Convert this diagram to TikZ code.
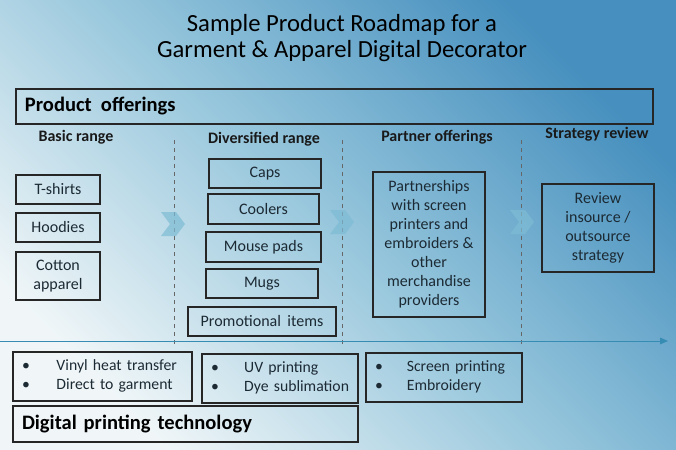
\documentclass[tikz,border=0pt]{standalone}
\usepackage{fontspec}
\setmainfont{Carlito}
\usetikzlibrary{positioning,arrows.meta}
\definecolor{bgdark}{RGB}{70,143,190}
\definecolor{bgmid}{RGB}{150,198,220}
\definecolor{bglight}{RGB}{240,246,248}
\definecolor{chev}{RGB}{125,188,212}
\definecolor{boxtext}{RGB}{28,42,52}
\definecolor{tline}{RGB}{55,140,180}

\begin{document}
\begin{tikzpicture}[x=0.75pt,y=-0.75pt,
	pbox/.style 2 args={draw=black!85, line width=0.8pt, minimum width=#1*0.75pt,
		minimum height=#2*0.75pt, inner sep=0pt, align=center, text=boxtext,
		font=\fontsize{12}{14.25}\selectfont},
	lbox/.style 2 args={pbox={#1}{#2}, text width=#1*0.75pt-18*0.75pt, inner xsep=9*0.75pt, align=left},
	colhead/.style={font=\fontsize{12}{14}\selectfont\bfseries, text=black!90},
	bighead/.style={font=\fontsize{15.4}{18}\selectfont\bfseries, text=black},
	bullets/.style={font=\fontsize{11.8}{14.25}\selectfont},
	sep/.style={draw=black!60, line width=0.5pt, dash pattern=on 3pt off 3pt},
	chev/.style={fill=chev, opacity=0.7},
	tline/.style={draw=tline, line width=0.7pt, -{Triangle[length=6pt,width=5pt]}}]
	% background
	\shade[top color=bglight, bottom color=bgdark, middle color=bgmid, shading angle=135] (0,0) rectangle (676,450);
	\useasboundingbox (0,0) rectangle (676,450);
	% title
	\node[align=center, font=\fontsize{18.5}{19.5}\selectfont, text=black] (title) at (342,38)
		{Sample Product Roadmap for a\\Garment \& Apparel Digital Decorator};
	% product offerings bar
	\node[lbox={637}{35}, bighead] (prod) at (334.5,106.5) {Product\hspace{0.45em}offerings};
	% column headings
	\node[colhead] (basic) at (76,137) {Basic range};
	\node[colhead] (divers) at (264,139) {Diversified range};
	\node[colhead] (partner) at (437,137) {Partner offerings};
	\node[colhead] (strat) at (597,134) {Strategy review};
	% separators
	\foreach \x in {174,342,521} {
		\draw[sep] (\x,140) -- (\x,345);
	}
	% chevrons
	\foreach \cx/\cy in {161/212,330/210,510/210} {
		\fill[chev] (\cx,\cy) -- ++(15,0) -- ++(9,12) -- ++(-9,12) -- ++(-15,0) -- ++(9,-12) -- cycle;
	}
	% basic range
	\node[pbox={84}{29}] (tshirts) at (58,189.5) {T-shirts};
	\node[pbox={84}{29}] (hoodies) at (58,227.5) {Hoodies};
	\node[pbox={84}{48}] (cotton) at (58,276) {Cotton\\apparel};
	% diversified range
	\node[pbox={112}{29}] (caps) at (265,173.5) {Caps};
	\node[pbox={111}{30}] (coolers) at (263.5,209) {Coolers};
	\node[pbox={115}{30}] (mouse) at (263.5,247) {Mouse pads};
	\node[pbox={112}{29}] (mugs) at (262,283.5) {Mugs};
	\node[pbox={148}{29}] (promo) at (262,321.5) {Promotional\hspace{0.4em}items};
	% partner offerings
	\node[pbox={112}{145}] (partners) at (429,244.5)
		{Partnerships\\with screen\\printers and\\embroiders \&\\other\\merchandise\\providers};
	% strategy review
	\node[pbox={112}{88}] (review) at (598,228) {Review\\insource /\\outsource\\strategy};
	% timeline
	\coordinate (tstart) at (0,341);
	\coordinate (tend) at (668,341);
	\draw[tline] (tstart) -- (tend);
	% printing technologies
	\node[lbox={179}{49}, bullets] (tech1) at (102.5,376.5)
		{\begin{tabular}{@{}l@{\hspace{20pt}}l@{}}\textbullet & Vinyl heat transfer\\ \textbullet & Direct to garment\end{tabular}};
	\node[lbox={156}{49}, bullets] (tech2) at (280,378.5)
		{\begin{tabular}{@{}l@{\hspace{19pt}}l@{}}\textbullet & UV printing\\ \textbullet & Dye sublimation\end{tabular}};
	\node[lbox={156}{49}, bullets] (tech3) at (444,377.5)
		{\begin{tabular}{@{}l@{\hspace{18pt}}l@{}}\textbullet & Screen printing\\ \textbullet & Embroidery\end{tabular}};
	\node[lbox={345}{36}, bighead] (digital) at (185.5,424) {Digital printing technology};
\end{tikzpicture}
\end{document}
